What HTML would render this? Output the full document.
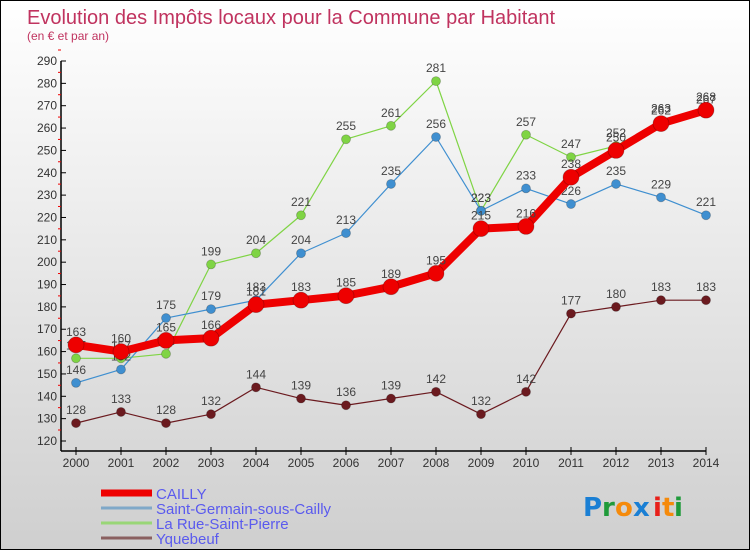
<!DOCTYPE html>
<html><head><meta charset="utf-8">
<style>
html,body{margin:0;padding:0;}
body{width:750px;height:550px;overflow:hidden;font-family:"Liberation Sans","DejaVu Sans",sans-serif;}
#wrap{position:relative;width:748px;height:548px;border:1px solid #000;background:linear-gradient(#ffffff,#cfcfcf);}
</style></head>
<body>
<div id="wrap">
<svg id="chart" width="748" height="548" xmlns="http://www.w3.org/2000/svg">
<text x="26" y="23" font-size="20" fill="#c0335f">Evolution des Impôts locaux pour la Commune par Habitant</text>
<text x="26" y="39" font-size="12" fill="#c0335f">(en € et par an)</text>
<g id="axes"></g>
<g id="series"></g>
<g id="legend"></g>
<g font-size="26" font-family="'DejaVu Sans',sans-serif" font-weight="bold">
<text x="582" y="515" fill="#1a7fd4">P</text><text x="601" y="515" fill="#1f9a3a">r</text><text x="614" y="515" fill="#f58a0b">o</text><text x="632" y="515" fill="#1a7fd4">x</text><text x="652" y="515" fill="#e8201a">i</text><text x="661" y="515" fill="#f58a0b">t</text><text x="673" y="515" fill="#1f9a3a">i</text>
</g>
</svg>
</div>
<script>
const years=[2000,2001,2002,2003,2004,2005,2006,2007,2008,2009,2010,2011,2012,2013,2014];
const cailly=[163,160,165,166,181,183,185,189,195,215,216,238,250,262,268];
const sgsc=[146,152,175,179,183,204,213,235,256,223,233,226,235,229,221];
const lrsp=[157,157,159,199,204,221,255,261,281,223,257,247,252,263,267];
const yqueb=[128,133,128,132,144,139,136,139,142,132,142,177,180,183,183];
const yTicks=[120,130,140,150,160,170,180,190,200,210,220,230,240,250,260,270,280,290];
const NS="http://www.w3.org/2000/svg";
function xS(i){return 75+i*45;}
function yS(v){return 440-(v-120)*(380/170);}
function mk(tag,attrs,parent){const e=document.createElementNS(NS,tag);for(const k in attrs)e.setAttribute(k,attrs[k]);parent.appendChild(e);return e;}
const axes=document.getElementById('axes');
let yl=mk('line',{x1:60,y1:yS(290),x2:60,y2:450,stroke:'#000','stroke-width':1.5},axes);


let xl=mk('line',{x1:60,y1:450,x2:xS(14),y2:450,stroke:'#000','stroke-width':1.5},axes);


yTicks.forEach(v=>{
  mk('line',{x1:60,y1:yS(v),x2:65,y2:yS(v),stroke:'#000'},axes);
  mk('line',{x1:57,y1:yS(v)-11,x2:60,y2:yS(v)-11,stroke:'#e00'},axes);
  const t=mk('text',{x:56,y:yS(v)+4,'text-anchor':'end','font-size':12,fill:'#333'},axes);
  t.textContent=v;
  
  
});
years.forEach((y,i)=>{
  mk('line',{x1:xS(i),y1:446,x2:xS(i),y2:454,stroke:'#000'},axes);
  const t=mk('text',{x:xS(i),y:466,'text-anchor':'middle','font-size':12,fill:'#333'},axes);
  t.textContent=y;
  
  
});
const seriesG=document.getElementById('series');
function drawSeries(vals,color,lineW,r,name){
  const g=mk('g',{},seriesG);
  
  
  const pts=vals.map((v,i)=>xS(i)+','+yS(v)).join(' ');
  mk('polyline',{points:pts,fill:'none',stroke:color,'stroke-width':lineW,'stroke-linejoin':'round'},g);
  vals.forEach((v,i)=>{
    const c=mk('circle',{cx:xS(i),cy:yS(v),r:r,fill:color,stroke:'rgba(0,0,0,0.25)','stroke-width':0.8},g);
    
    
    const t=mk('text',{x:xS(i),y:yS(v)-9,'text-anchor':'middle','font-size':12,fill:'#444'},g);
    t.textContent=v;
    
    
  });
}
drawSeries(yqueb,'#6b1a1f',1.2,4.5,'yquebeuf');
drawSeries(lrsp,'#7fd444',1.2,4.5,'la-rue-saint-pierre');
drawSeries(sgsc,'#3f8fd0',1.2,4.5,'saint-germain');
drawSeries(cailly,'#ee0000',8,8,'cailly');
const legend=document.getElementById('legend');
const leg=[['CAILLY','#ee0000',7],['Saint-Germain-sous-Cailly','#7fa8c8',3],['La Rue-Saint-Pierre','#99d677',3],['Yquebeuf','#8a6060',3]];
leg.forEach((l,i)=>{
  const y=492+i*15;
  const g=mk('g',{},legend);
  
  
  mk('line',{x1:100,y1:y,x2:151,y2:y,stroke:l[1],'stroke-width':l[2]},g);
  const t=mk('text',{x:155,y:y+6,'font-size':15,fill:'#5a5aee'},g);
  t.textContent=l[0];
});
</script>
</body></html>
